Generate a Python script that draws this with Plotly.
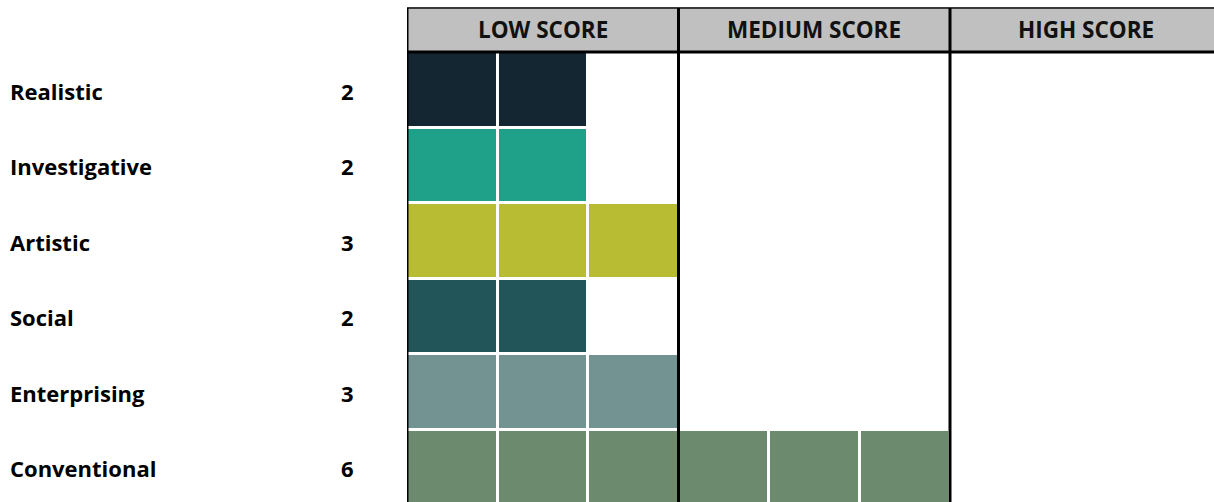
import plotly.graph_objects as go

categories = ["Realistic", "Investigative", "Artistic", "Social", "Enterprising", "Conventional"]
scores = [2, 2, 3, 2, 3, 6]
colors = ["#152633", "#1fa088", "#b8bc32", "#22555a", "#739292", "#6b8a6e"]
groups = ["LOW SCORE", "MEDIUM SCORE", "HIGH SCORE"]
n_cols = 9

W, H = 1214, 502
left = 407
col_px = 90.5
row_px = 75.5
plot_w = W - left

x_max = plot_w / col_px
header_h = 44 / row_px
top_pad = 8 / row_px
y_top = -(header_h + top_pad)
y_bot = y_top + H / row_px

z = []
for r, s in enumerate(scores):
    z.append([r if c < s else None for c in range(n_cols)])

n = len(colors)
cs = []
for i, col in enumerate(colors):
    cs.append([i / n, col])
    cs.append([(i + 1) / n, col])

fig = go.Figure()
fig.add_trace(go.Heatmap(
    z=z,
    x=[c + 0.5 for c in range(n_cols)],
    y=[r + 0.5 for r in range(len(categories))],
    colorscale=cs, zmin=-0.5, zmax=n - 0.5,
    xgap=3, ygap=3, showscale=False, hoverinfo="skip",
))

# header
for g, name in enumerate(groups):
    fig.add_shape(type="rect", xref="x", yref="y", x0=g * 3, x1=g * 3 + 3,
                  y0=-header_h, y1=0, fillcolor="#c0c0c0", line_width=0, layer="below")
    fig.add_annotation(x=g * 3 + 1.5, y=-header_h / 2, xref="x", yref="y", text="<b>%s</b>" % name,
                       showarrow=False, yshift=1, font=dict(family="Open Sans", size=22.5, color="#111111"))

fig.add_shape(type="line", xref="x", yref="y", x0=0, x1=n_cols, y0=-header_h, y1=-header_h,
              line=dict(color="#3a3a3a", width=2))
fig.add_shape(type="line", xref="x", yref="y", x0=0, x1=n_cols, y0=0, y1=0,
              line=dict(color="#000000", width=3))
for g in range(3):
    fig.add_shape(type="line", xref="x", yref="y", x0=g * 3, x1=g * 3, y0=-header_h, y1=len(categories),
                  line=dict(color="#000000", width=3))

# row labels (paper x so they live in the left margin)
for r, (cat, s) in enumerate(zip(categories, scores)):
    fig.add_annotation(x=(8 - left) / plot_w, y=r + 0.5, xref="paper", yref="y", text="<b>%s</b>" % cat,
                       showarrow=False, xanchor="left", yshift=-1,
                       font=dict(family="Open Sans", size=22, color="#000000"))
    fig.add_annotation(x=(347 - left) / plot_w, y=r + 0.5, xref="paper", yref="y", text="<b>%d</b>" % s,
                       showarrow=False, xanchor="center", yshift=-1,
                       font=dict(family="Open Sans", size=22, color="#000000"))

fig.update_layout(
    width=W, height=H,
    margin=dict(l=left, r=0, t=0, b=0),
    paper_bgcolor="white", plot_bgcolor="white",
    xaxis=dict(range=[0, x_max], visible=False, fixedrange=True),
    yaxis=dict(range=[y_bot, y_top], visible=False, fixedrange=True),
    showlegend=False,
)
fig.write_html("out.html")
